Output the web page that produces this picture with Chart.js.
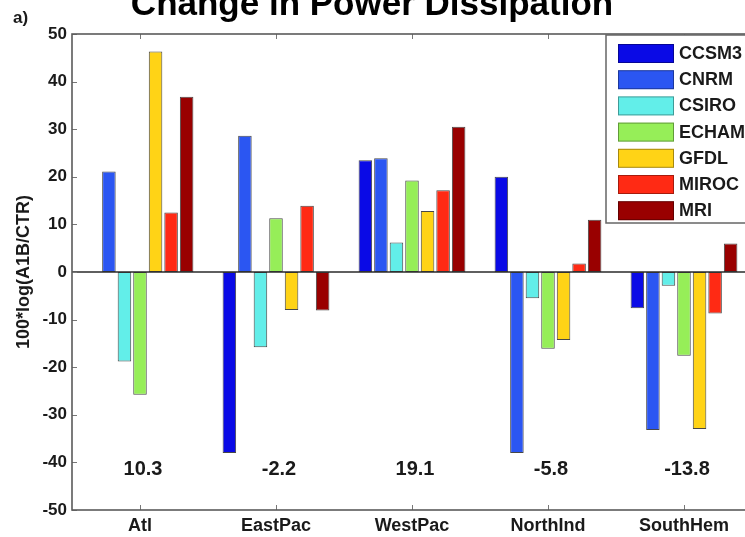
<!DOCTYPE html>
<html>
<head>
<meta charset="utf-8">
<script src="https://cdn.jsdelivr.net/npm/chart.js@4"></script>
<style>
  html, body { margin: 0; padding: 0; background: #fff; overflow: hidden; width: 745px; height: 537px; }
  canvas { display: block; }
</style>
</head>
<body>
<canvas id="c" width="760" height="537"></canvas>
<script>
// Regions (categories) and models (series)
const regions = ['Atl', 'EastPac', 'WestPac', 'NorthInd', 'SouthHem'];
const models = ['CCSM3', 'CNRM', 'CSIRO', 'ECHAM', 'GFDL', 'MIROC', 'MRI'];

// 100*log(A1B/CTR) per model, one value per region
const ccsm3 = [null, -38.0, 23.5, 20.0, -7.6];
const cnrm  = [21.1, 28.6, 23.9, -38.0, -33.2];
const csiro = [-18.8, -15.8, 6.2, -5.5, -2.9];
const echam = [-25.8, 11.3, 19.2, -16.1, -17.6];
const gfdl  = [46.3, -8.0, 12.8, -14.3, -33.0];
const miroc = [12.5, 13.9, 17.2, 1.8, -8.7];
const mri   = [36.8, -8.1, 30.5, 11.0, 6.0];

// Multi-model mean printed under each region
const meanLabels = ['10.3', '-2.2', '19.1', '-5.8', '-13.8'];
const meanLabelLevel = -41.4;

const colors = ['#0a0ae6', '#2b56f2', '#62eee9', '#96ee58', '#ffd316', '#ff2a14', '#990000'];
const seriesValues = [ccsm3, cnrm, csiro, echam, gfdl, miroc, mri];

const FONT = "'Liberation Sans', Arial, Helvetica, sans-serif";
const TEXT = '#1a1a1a';

// Plot frame, zero line and inward tick marks
const framePlugin = {
  id: 'frame',
  afterDatasetsDraw(chart) {
    const { ctx, chartArea: a, scales: { x, y } } = chart;
    ctx.save();
    const y0 = y.getPixelForValue(0);
    ctx.strokeStyle = '#2a2a2a';
    ctx.lineWidth = 1.5;
    ctx.beginPath();
    ctx.moveTo(a.left, y0);
    ctx.lineTo(a.right, y0);
    ctx.stroke();
    ctx.strokeStyle = '#777';
    ctx.lineWidth = 1;
    ctx.beginPath();
    y.ticks.forEach((t, i) => {
      const py = Math.round(y.getPixelForTick(i)) + 0.5;
      ctx.moveTo(a.left, py); ctx.lineTo(a.left + 5, py);
      ctx.moveTo(a.right, py); ctx.lineTo(a.right - 5, py);
    });
    x.ticks.forEach((t, i) => {
      const px = Math.round(x.getPixelForTick(i)) + 0.5;
      ctx.moveTo(px, a.top); ctx.lineTo(px, a.top + 5);
      ctx.moveTo(px, a.bottom); ctx.lineTo(px, a.bottom - 5);
    });
    ctx.stroke();
    ctx.strokeStyle = '#5a5a5a';
    ctx.lineWidth = 1.6;
    ctx.strokeRect(a.left, a.top, a.right - a.left, a.bottom - a.top);
    ctx.restore();
  }
};

// Legend box inside the upper-right corner of the plot
const legendBoxPlugin = {
  id: 'legendBox',
  afterDatasetsDraw(chart) {
    const { ctx, chartArea: a } = chart;
    const left = 606, top = a.top + 1, bottom = 223, right = a.right + 20;
    ctx.save();
    ctx.fillStyle = '#fff';
    ctx.fillRect(left, top, right - left, bottom - top);
    ctx.strokeStyle = '#666';
    ctx.lineWidth = 1.5;
    ctx.strokeRect(left, top, right - left, bottom - top);
    ctx.font = 'bold 18px ' + FONT;
    ctx.textBaseline = 'middle';
    ctx.textAlign = 'left';
    chart.data.datasets.forEach((ds, i) => {
      const sy = 44 + i * 26.2;
      ctx.fillStyle = ds.backgroundColor;
      ctx.fillRect(618, sy, 56, 19);
      ctx.strokeStyle = 'rgba(0,0,0,0.35)';
      ctx.lineWidth = 1;
      ctx.strokeRect(618.5, sy + 0.5, 55, 18);
      ctx.fillStyle = TEXT;
      ctx.fillText(ds.label, 679, sy + 10);
    });
    ctx.restore();
  }
};

// Title, panel letter and region means
const textPlugin = {
  id: 'texts',
  afterDraw(chart) {
    const { ctx, scales: { x, y } } = chart;
    ctx.save();
    ctx.fillStyle = '#000';
    ctx.textAlign = 'center';
    ctx.textBaseline = 'alphabetic';
    ctx.font = 'bold 35px ' + FONT;
    ctx.fillText('Change in Power Dissipation', 372, 15);
    ctx.textAlign = 'left';
    ctx.font = 'bold 17px ' + FONT;
    ctx.fillStyle = TEXT;
    ctx.fillText('a)', 13, 23);
    ctx.textAlign = 'center';
    ctx.textBaseline = 'middle';
    ctx.font = 'bold 20px ' + FONT;
    meanLabels.forEach((lab, i) => {
      ctx.fillText(lab, x.getPixelForValue(i) + 3, y.getPixelForValue(meanLabelLevel));
    });
    ctx.restore();
  }
};

new Chart(document.getElementById('c'), {
  type: 'bar',
  data: {
    labels: regions,
    datasets: models.map((m, i) => ({
      label: m,
      data: seriesValues[i],
      backgroundColor: colors[i],
      borderColor: 'rgba(25,25,25,0.8)',
      borderWidth: 1,
      borderSkipped: false,
      categoryPercentage: 0.8,
      barPercentage: 0.87
    }))
  },
  options: {
    responsive: false,
    animation: false,
    devicePixelRatio: 1,
    layout: { padding: { top: 34, right: 8, left: 0, bottom: 0 } },
    plugins: {
      legend: { display: false },
      title: { display: false },
      tooltip: { enabled: false }
    },
    scales: {
      x: {
        grid: { display: false, drawTicks: false, tickLength: 0 },
        border: { display: false },
        ticks: {
          color: TEXT,
          font: { family: FONT, size: 18, weight: 'bold' },
          padding: 5,
          maxRotation: 0,
          autoSkip: false
        },
        afterFit(scale) { scale.height = 27; }
      },
      y: {
        min: -50,
        max: 50,
        grid: { display: false, drawTicks: false, tickLength: 0 },
        border: { display: false },
        ticks: {
          stepSize: 10,
          color: TEXT,
          font: { family: FONT, size: 17, weight: 'bold' },
          padding: 5
        },
        title: {
          display: true,
          text: '100*log(A1B/CTR)',
          color: TEXT,
          font: { family: FONT, size: 18, weight: 'bold' },
          padding: { top: 13, bottom: 0 }
        },
        afterFit(scale) { scale.width = 72; }
      }
    }
  },
  plugins: [framePlugin, legendBoxPlugin, textPlugin]
});
</script>
</body>
</html>
